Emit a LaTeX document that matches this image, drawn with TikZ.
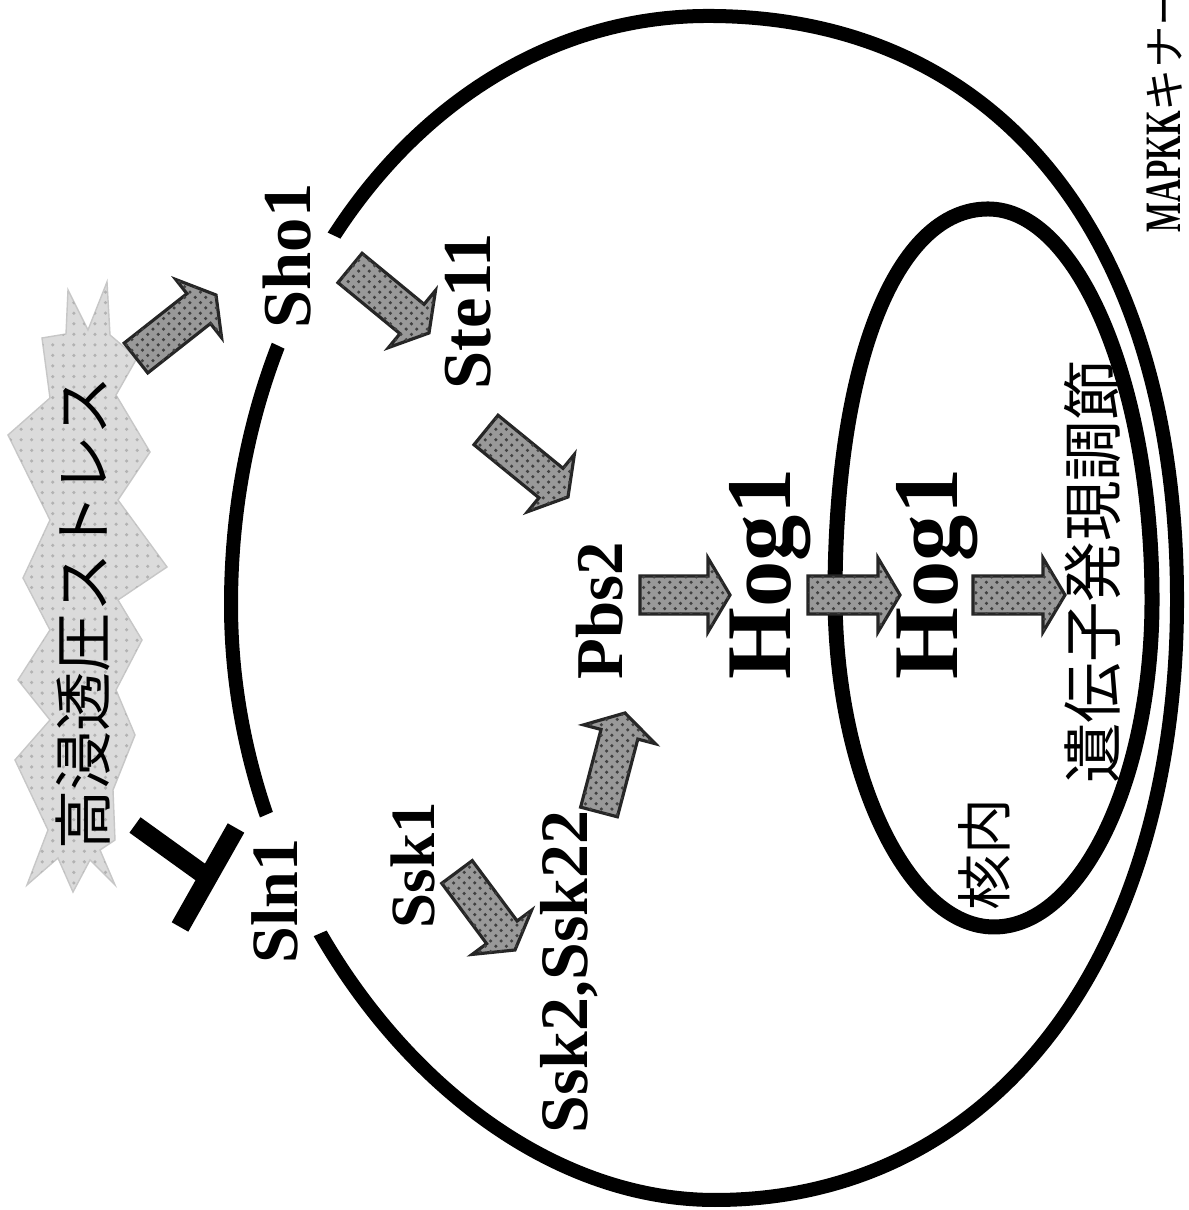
\documentclass[tikz,border=0pt]{standalone}
\usepackage{fontspec}
\setmainfont{Liberation Serif}
\newfontfamily\jfont{Noto Sans CJK JP}
\usetikzlibrary{calc,patterns}

% grainy block arrow from tail coordinate #1 to tip coordinate #2
\newcommand{\sigarrow}[2]{%
  \coordinate (hb) at ($(#2)!0.22cm!(#1)$);
  \filldraw[sig] ($(#1)!0.19cm!90:(#2)$) -- ($(hb)!0.19cm!90:(#2)$)
    -- ($(hb)!0.37cm!90:(#2)$) -- (#2) -- ($(hb)!0.37cm!-90:(#2)$)
    -- ($(hb)!0.19cm!-90:(#2)$) -- ($(#1)!0.19cm!-90:(#2)$) -- cycle;}

\begin{document}
\begin{tikzpicture}[x=0.01cm, y=0.01cm,
  membrane/.style={line width=0.14cm, black},
  nucleus/.style={line width=0.15cm, black},
  sig/.style={fill=black!40, draw=black!85, line width=0.9pt, line join=miter,
    postaction={pattern=crosshatch dots, pattern color=black!75}},
  burst/.style={fill=black!14, draw=black!22, line width=0.4pt,
    postaction={pattern=dots, pattern color=black!30}},
  prot/.style={font=\bfseries\fontsize{#1}{#1}\selectfont, rotate=90, anchor=base west, inner sep=0pt},
  jp/.style={font=\jfont\fontsize{#1}{#1}\selectfont, rotate=90, anchor=center, inner sep=0pt},
  inhibit/.style={line width=0.19cm, black, line cap=butt}
]
\useasboundingbox (0,0) rectangle (1188,1210);
\fill[white] (0,0) rectangle (1188,1210);

% stress burst
\filldraw[burst] (107,928) -- (110,875) -- (137,852) -- (116,815) -- (150,758)
  -- (118,710) -- (167,643) -- (118,610) -- (142,570) -- (116,520) -- (135,475)
  -- (113,420) -- (115,370) -- (100,360) -- (115,325) -- (90,350) -- (73,318)
  -- (58,352) -- (27,325) -- (48,380) -- (15,450) -- (50,490) -- (18,530)
  -- (50,580) -- (23,632) -- (50,690) -- (8,775) -- (50,812) -- (42,872)
  -- (66,876) -- (68,920) -- (88,880) -- cycle;
\node[jp=16.8pt] (stress) at (83,597) {高浸透圧ストレス};

% cell membrane: four quarter arcs, open where the two sensors sit
\coordinate (cT) at (708,1194);
\coordinate (cR) at (1177,610);
\coordinate (cB) at (715,10);
\coordinate (cL) at (231,605);
\begin{scope}[even odd rule]
  \clip (0,0) rectangle (1188,1210)
    (301,990) -- (373,956) -- (319,845) -- (247,879) -- cycle
    (231,380) -- (305,412) -- (358,293) -- (284,261) -- cycle;
  \draw[membrane] (cT) .. controls (999,1194) and (1177,972) .. (cR)
    .. controls (1177,250) and (992,10) .. (cB)
    .. controls (463,10) and (231,296) .. (cL)
    .. controls (231,935) and (441,1194) .. (cT) -- cycle;
\end{scope}

% nucleus
\coordinate (nT) at (988,1001);
\coordinate (nR) at (1152,610);
\coordinate (nB) at (994,283);
\coordinate (nL) at (835,615);
\draw[nucleus] (nT) .. controls (1078,1001) and (1152,825) .. (nR)
  .. controls (1152,430) and (1081,283) .. (nB)
  .. controls (908,283) and (835,436) .. (nL)
  .. controls (835,847) and (896,1001) .. (nT) -- cycle;

% inhibition of Sln1
\coordinate (tstem) at (135,385);
\coordinate (tjoin) at (210,331);
\coordinate (tbarA) at (236,382);
\coordinate (tbarB) at (180,283);
\draw[inhibit] (tstem) -- (tjoin);
\draw[inhibit] (tbarA) -- (tbarB);

% proteins
\node[prot=18.8pt] (sln1) at (297,246) {Sln1};
\node[prot=19.5pt] (sho1) at (310,881) {Sho1};
\node[prot=19.5pt] (ste11) at (490,820) {Ste11};
\node[prot=17.9pt] (ssk1) at (434,281) {Ssk1};
\node[prot=19.3pt] (ssk2) at (587,76) {Ssk2,Ssk22};
\node[prot=19pt] (pbs2) at (622,530) {Pbs2};
\node[prot=26.3pt] (hog1c) at (790,530) {Hog1};
\node[prot=26.3pt] (hog1n) at (957,530) {Hog1};
\node[jp=15.9pt] (nucin) at (984,355) {核内};
\node[jp=17.2pt] (gene) at (1093,638) {遺伝子発現調節};
\node[prot=14.5pt] (mapkk) at (1180,977)
  {\scalebox{0.62}[1]{MAPKK}{\jfont\mdseries\fontsize{12pt}{12pt}\selectfont キナー}};

% signalling arrows
\coordinate (a1t) at (136,852);  \coordinate (a1h) at (216,915);
\coordinate (a2t) at (350,942);  \coordinate (a2h) at (429,877);
\coordinate (a3t) at (486,780);  \coordinate (a3h) at (568,713);
\coordinate (a4t) at (457,338);  \coordinate (a4h) at (515,260);
\coordinate (a5t) at (599,398);  \coordinate (a5h) at (625,497);
\coordinate (a6t) at (640,615);  \coordinate (a6h) at (730,615);
\coordinate (a7t) at (808,615);  \coordinate (a7h) at (900,615);
\coordinate (a8t) at (973,615);  \coordinate (a8h) at (1065,615);
\sigarrow{a1t}{a1h}
\sigarrow{a2t}{a2h}
\sigarrow{a3t}{a3h}
\sigarrow{a4t}{a4h}
\sigarrow{a5t}{a5h}
\sigarrow{a6t}{a6h}
\sigarrow{a7t}{a7h}
\sigarrow{a8t}{a8h}
\end{tikzpicture}
\end{document}
